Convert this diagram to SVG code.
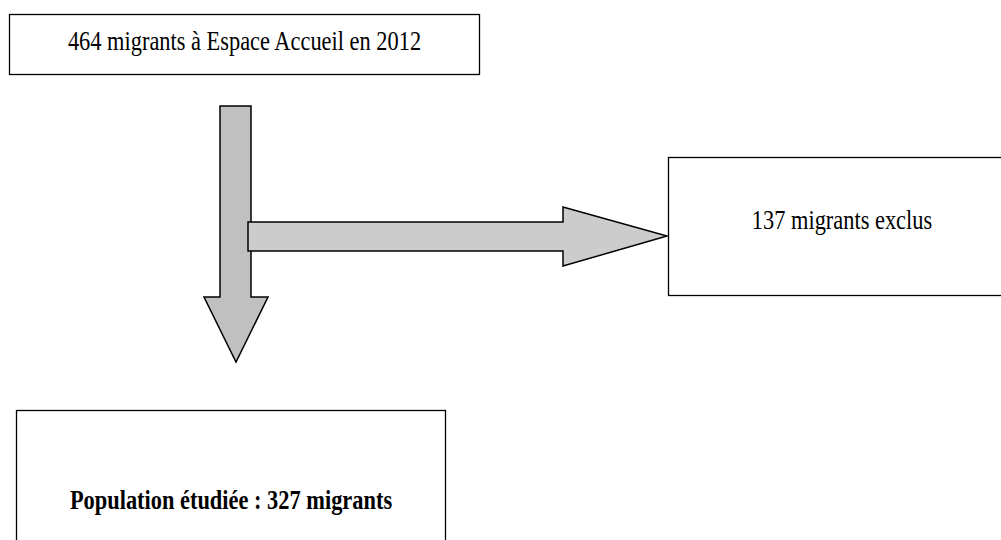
<svg xmlns="http://www.w3.org/2000/svg" width="1001" height="540" viewBox="0 0 1001 540">
<style>
.box{fill:#ffffff;stroke:#000000;stroke-width:1.3}
.arrow{stroke:#000000;stroke-width:1.5;stroke-linejoin:miter}
.t{font-family:"Liberation Serif","Times New Roman",serif;font-size:22.4px;fill:#000000;text-anchor:middle}
.b{font-weight:bold}
</style>
<rect width="1001" height="540" fill="#ffffff"/>
<g id="node-start">
<rect class="box" x="9.5" y="14.5" width="470" height="60"/>
<text class="t" transform="translate(244.5,50) scale(1,1.2)">464 migrants à Espace Accueil en 2012</text>
</g>
<g id="node-excluded">
<rect class="box" x="668.5" y="157.5" width="340" height="138"/>
<text class="t" transform="translate(842,229) scale(1,1.2)">137 migrants exclus</text>
</g>
<g id="node-population">
<rect class="box" x="16.5" y="410.5" width="429" height="140"/>
<text class="t b" transform="translate(231,509) scale(1,1.2)">Population étudiée : 327 migrants</text>
</g>
<g id="connectors">
<polygon class="arrow" fill="#c0c0c0" points="220,106 251,106 251,297 268,297 236,362 204,297 220,297"/>
<polygon class="arrow" fill="#cccccc" points="248,222 563,222 563,207 667,236 563,266 563,251 248,251"/>
</g>
</svg>
